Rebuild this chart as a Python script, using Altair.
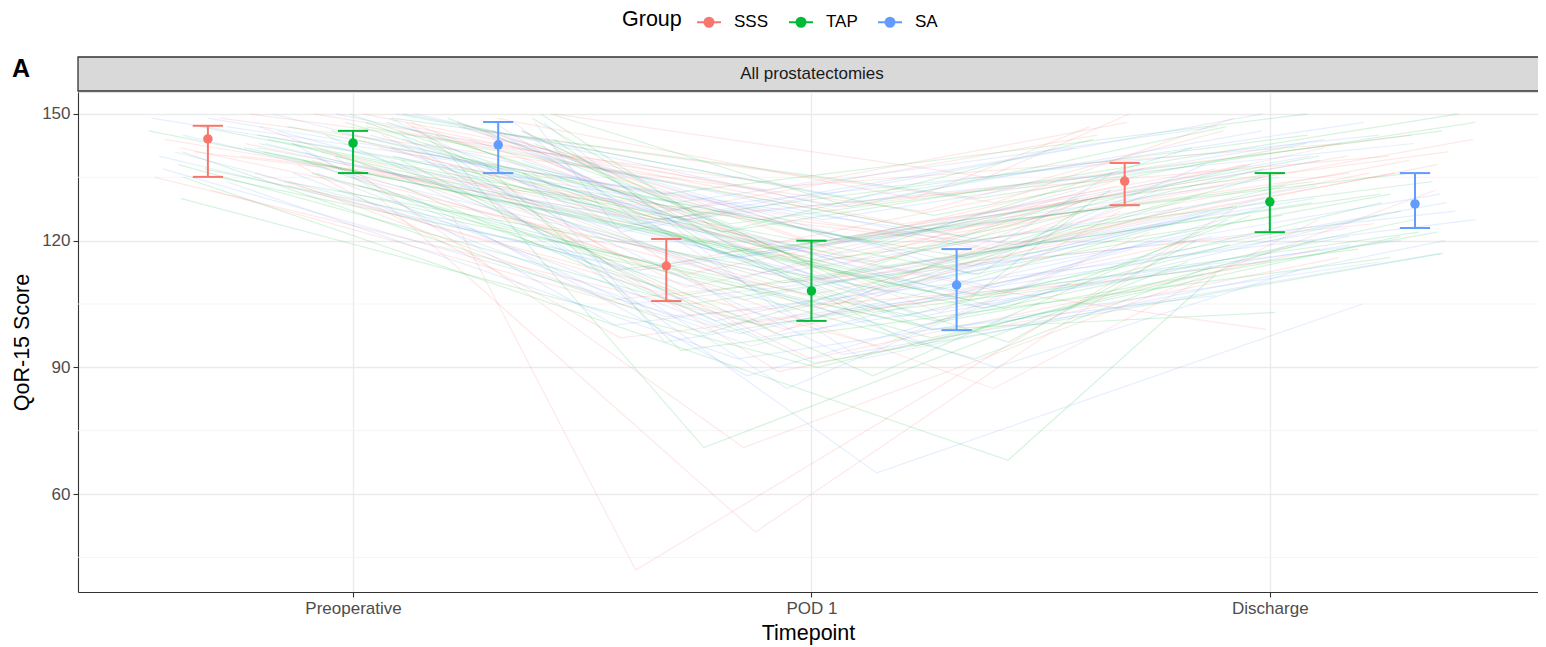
import altair as alt
import pandas as pd

groups = ["SSS", "TAP", "SA"]
colors = ["#F8766D", "#00BA38", "#619CFF"]
timepoints = ["Preoperative", "POD 1", "Discharge"]

# Summary (median and interquartile range) per group, per timepoint
sss_median = [144.1, 114.0, 134.1]
sss_q1 = [135.1, 105.7, 128.4]
sss_q3 = [147.2, 120.4, 138.4]
tap_median = [143.1, 108.1, 129.2]
tap_q1 = [136.0, 101.0, 122.0]
tap_q3 = [146.0, 120.0, 136.0]
sa_median = [142.7, 109.5, 128.7]
sa_q1 = [136.0, 98.8, 123.0]
sa_q3 = [148.1, 118.0, 136.0]

# Individual patient trajectories (Preoperative, POD 1, Discharge)
sss_pre = [126, 130, 140, 147, 145, 148, 144, 150, 138, 135, 142, 146, 139, 149, 133, 141, 143, 150,
           137, 145, 128, 144, 148, 136, 140, 147, 132, 146, 149, 134, 142, 138, 150, 145, 141,
           147, 139, 150, 136, 144, 131, 148, 142, 135, 146]
sss_pod1 = [42, 51, 71, 85, 110, 120, 114, 128, 105, 100, 118, 122, 112, 130, 95, 108, 116, 135,
            104, 119, 92, 125, 113, 98, 120, 117, 102, 111, 127, 106, 115, 97, 132, 109, 121,
            124, 103, 133, 99, 118, 89, 126, 110, 107, 129]
sss_dis = [128, 120, 132, 125, 138, 140, 134, 145, 130, 128, 136, 142, 133, 147, 122, 99, 138, 150,
           126, 135, 118, 140, 137, 129, 131, 144, 110, 136, 146, 124, 139, 115, 148, 133, 136,
           141, 127, 143, 121, 137, 116, 145, 131, 124, 149]

tap_pre = [140, 135, 145, 142, 146, 148, 143, 150, 138, 136, 144, 147, 139, 149, 133, 141, 143, 150,
           137, 145, 130, 144, 148, 136, 140, 146, 132, 146, 149, 134, 142, 138, 150, 145, 141, 147, 139,
           144, 137, 150, 133, 147, 140, 148, 135, 143, 149]
tap_pod1 = [71, 68, 88, 95, 108, 118, 110, 125, 100, 103, 112, 120, 105, 130, 92, 106, 115, 122,
            101, 109, 90, 117, 102, 97, 113, 119, 99, 107, 124, 104, 111, 94, 128, 116, 98, 121, 107,
            113, 96, 126, 91, 115, 104, 123, 100, 108, 131]
tap_dis = [115, 112, 125, 120, 130, 136, 129, 145, 122, 118, 132, 140, 126, 148, 114, 128, 134, 150,
           125, 131, 112, 136, 129, 121, 130, 142, 103, 127, 146, 119, 133, 116, 147, 135, 124, 138, 131,
           134, 120, 143, 117, 137, 126, 144, 122, 128, 150]

sa_pre = [145, 140, 148, 143, 146, 150, 142, 149, 137, 136, 144, 147, 139, 150, 133, 141, 143, 148,
          137, 145, 131, 144, 148, 136, 140, 146, 134, 146, 149, 135, 142, 138, 150,
          147, 139, 150, 134, 145, 141, 148, 136, 143, 149]
sa_pod1 = [65, 85, 92, 100, 110, 118, 109, 123, 98, 95, 112, 119, 104, 128, 90, 106, 114, 122,
           101, 108, 88, 116, 103, 96, 113, 117, 99, 107, 125, 102, 111, 93, 130,
           120, 97, 127, 92, 112, 105, 124, 100, 108, 129]
sa_dis = [105, 115, 120, 125, 130, 136, 128, 142, 122, 118, 131, 138, 126, 146, 113, 127, 133, 150,
          124, 129, 110, 135, 130, 123, 128, 140, 107, 126, 144, 121, 132, 117, 148,
          139, 119, 145, 115, 133, 127, 143, 120, 130, 147]

minor_breaks = [45, 75, 105, 135]
major_breaks = [60, 90, 120, 150]

# ---------- tables ----------
patients = {
    "SSS": (sss_pre, sss_pod1, sss_dis),
    "TAP": (tap_pre, tap_pod1, tap_dis),
    "SA": (sa_pre, sa_pod1, sa_dis),
}
rows = []
k = 0
for g in groups:
    pre, pod, dis = patients[g]
    for i in range(len(pre)):
        k += 1
        for t, v in zip([1, 2, 3], [pre[i], pod[i], dis[i]]):
            rows.append({"pid": f"{g}{i}", "group": g, "t": t, "value": v, "k": k})
df_lines = pd.DataFrame(rows)

summ = {
    "SSS": (sss_median, sss_q1, sss_q3),
    "TAP": (tap_median, tap_q1, tap_q3),
    "SA": (sa_median, sa_q1, sa_q3),
}
srows = []
for g in groups:
    med, q1, q3 = summ[g]
    for t in range(3):
        srows.append({"group": g, "t": t + 1, "median": med[t], "q1": q1[t], "q3": q3[t]})
df_sum = pd.DataFrame(srows)

W, H = 1460, 500
FONT = "Liberation Sans"

xscale = alt.Scale(domain=[0.4, 3.585], nice=False, zero=False)
yscale = alt.Scale(domain=[36.8, 155.2], nice=False, zero=False)
cscale = alt.Scale(domain=groups, range=colors)

xaxis = alt.Axis(
    values=[1, 2, 3],
    labelExpr="['', 'Preoperative', 'POD 1', 'Discharge'][datum.value]",
    title="Timepoint",
    grid=True, gridColor="#EBEBEB", gridWidth=1.3,
    domainColor="#333333", domainWidth=1.1,
    tickColor="#333333", tickSize=5, tickWidth=1.1,
    labelColor="#4D4D4D", labelFontSize=17, labelFont=FONT, labelPadding=3,
    titleColor="#000000", titleFontSize=21.5, titleFont=FONT, titleFontWeight="normal",
    titlePadding=6,
)
yaxis = alt.Axis(
    values=major_breaks,
    title="QoR-15 Score",
    grid=True, gridColor="#EBEBEB", gridWidth=1.3,
    domainColor="#333333", domainWidth=1.1,
    tickColor="#333333", tickSize=5, tickWidth=1.1,
    labelColor="#4D4D4D", labelFontSize=17, labelFont=FONT, labelPadding=3,
    titleColor="#000000", titleFontSize=21.5, titleFont=FONT, titleFontWeight="normal",
    titlePadding=8,
)

legend = alt.Legend(
    title="Group", orient="none", legendX=544, legendY=-83, direction="horizontal",
    titleOrient="left", titleFontSize=21.5, titleFont=FONT, titleFontWeight="normal",
    titleColor="#000000", titlePadding=14, titleLimit=200,
    labelFontSize=17, labelFont=FONT, labelColor="#000000", labelOffset=12,
    columnPadding=16,
    symbolType="M-1,0L1,0M0.375,0A0.375,0.375,0,1,1,-0.375,0A0.375,0.375,0,1,1,0.375,0Z",
    symbolSize=576, symbolStrokeWidth=2, symbolOpacity=1,
)


def X(field):
    return alt.X(field, scale=xscale, axis=xaxis, title="Timepoint")


def Y(field):
    return alt.Y(field, scale=yscale, axis=yaxis, title="QoR-15 Score")


def C():
    return alt.Color("group:N", scale=cscale, legend=legend, sort=groups, title="Group")


minor = alt.Chart(pd.DataFrame({"b": minor_breaks})).mark_rule(
    color="#F3F3F3", strokeWidth=0.8
).encode(y=Y("b:Q"))

lines = alt.Chart(df_lines).transform_calculate(
    h="sin(datum.k * 12.9898 + datum.t * 78.233) * 43758.5453"
).transform_calculate(
    xj="datum.t + (datum.h - floor(datum.h) - 0.5) * 0.9"
).mark_line(strokeWidth=1.2, opacity=0.16).encode(
    x=X("xj:Q"),
    y=Y("value:Q"),
    color=C(),
    detail="pid:N",
    order="t:Q",
)

dodge = 0.95 / 3
sbase = alt.Chart(df_sum).transform_calculate(
    pos=f"datum.t + (datum.group == 'SSS' ? {-dodge} : (datum.group == 'SA' ? {dodge} : 0))"
)

vbar = sbase.mark_rule(strokeWidth=2).encode(
    x=X("pos:Q"),
    y=Y("q1:Q"),
    y2="q3:Q",
    color=C(),
)

caps = sbase.transform_fold(["q1", "q3"], as_=["which", "v"]).transform_calculate(
    xl="datum.pos - 0.033", xr="datum.pos + 0.033"
).mark_rule(strokeWidth=2).encode(
    x=X("xl:Q"),
    x2="xr:Q",
    y=Y("v:Q"),
    color=C(),
)

pts = sbase.mark_point(filled=True, size=90, opacity=1).encode(
    x=X("pos:Q"),
    y=Y("median:Q"),
    color=C(),
)

strip_df = pd.DataFrame({"label": ["All prostatectomies"], "tag": ["A"]})
strip = alt.Chart(strip_df).mark_rect(
    fill="#D9D9D9", stroke="#333333", strokeWidth=1.3
).encode(x=alt.value(0), x2=alt.value(W + 2), y=alt.value(-35), y2=alt.value(-1))

strip_text = alt.Chart(strip_df).mark_text(
    fontSize=17, font=FONT, color="#1A1A1A", align="center", baseline="middle"
).encode(x=alt.value(734), y=alt.value(-18), text="label:N")

tag = alt.Chart(strip_df).mark_text(
    fontSize=25, font=FONT, fontWeight="bold", color="#000000", align="center", baseline="middle"
).encode(x=alt.value(-57), y=alt.value(-23), text="tag:N")

chart = alt.layer(minor, lines, vbar, caps, pts, strip, strip_text, tag).properties(
    width=W, height=H,
    autosize=alt.AutoSizeParams(type="none"),
    padding={"left": 70, "top": 84, "right": 0, "bottom": 55},
).configure_view(stroke=None).configure(background="white")

chart.save("out.html", embed_options={"renderer": "svg", "actions": False})
